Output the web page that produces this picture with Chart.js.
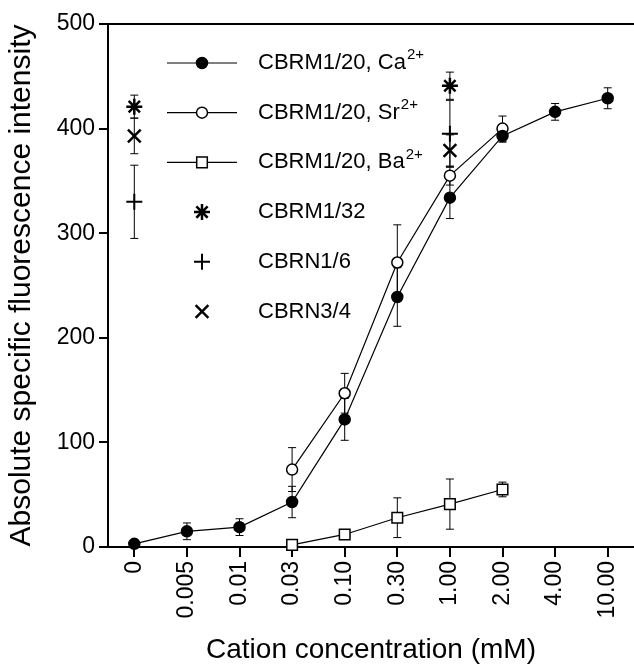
<!DOCTYPE html>
<html>
<head>
<meta charset="utf-8">
<script src="https://cdn.jsdelivr.net/npm/chart.js@4.4.0/dist/chart.umd.min.js"></script>
<style>
  html, body { margin: 0; padding: 0; background: #fff; }
</style>
</head>
<body>
<canvas id="cationChart" width="634" height="669"></canvas>
<script>
// categories on the x axis (mM)
const concentrations = ['0', '0.005', '0.01', '0.03', '0.10', '0.30', '1.00', '2.00', '4.00', '10.00'];
const yTicks = [0, 100, 200, 300, 400, 500];

// CBRM1/20 titrations
const caValues = [3, 15, 19, 43, 122, 239, 334, 393, 416, 429];
const caErrors = [0, 8, 8, 15, 20, 28, 20, 6, 8, 10];
const srValues = [null, null, null, 74, 147, 272, 355, 400, null, null];
const srErrors = [0, 0, 0, 21, 19, 36, 9, 12, 0, 0];
const baValues = [null, null, null, 2, 12, 28, 41, 55, null, null];
const baErrors = [0, 0, 0, 0, 0, 19, 24, 7, 0, 0];

// other antibodies, only at 0 and 1.00 mM
const m132Values = [421, null, null, null, null, null, 441, null, null, null];
const m132Errors = [11, 0, 0, 0, 0, 0, 13, 0, 0, 0];
const n16Values = [330, null, null, null, null, null, 395, null, null, null];
const n16Errors = [35, 0, 0, 0, 0, 0, 32, 0, 0, 0];
const n34Values = [393, null, null, null, null, null, 379, null, null, null];
const n34Errors = [17, 0, 0, 0, 0, 0, 15, 0, 0, 0];

const legendNames = ['CBRM1/20, Ca', 'CBRM1/20, Sr', 'CBRM1/20, Ba', 'CBRM1/32', 'CBRN1/6', 'CBRN3/4'];
const legendSups = ['2+', '2+', '2+', '', '', ''];

const FONT = "'Liberation Sans', Arial, sans-serif";
Chart.defaults.font.family = FONT;
Chart.defaults.color = '#000';

// Error bars drawn under the points
const errorBars = {
    id: 'errorBars',
    beforeDatasetsDraw(chart) {
        const ctx = chart.ctx;
        const yScale = chart.scales.y;
        ctx.save();
        ctx.strokeStyle = '#000';
        ctx.lineWidth = 1;
        chart.data.datasets.forEach(function(ds, i) {
            if (!ds.errors) return;
            const meta = chart.getDatasetMeta(i);
            ds.data.forEach(function(v, j) {
                const e = ds.errors[j];
                if (v == null || !e) return;
                const x = meta.data[j].x;
                const yTop = yScale.getPixelForValue(v + e);
                const yBot = yScale.getPixelForValue(Math.max(v - e, 0));
                ctx.beginPath();
                ctx.moveTo(x, yTop); ctx.lineTo(x, yBot);
                ctx.moveTo(x - 4, yTop); ctx.lineTo(x + 4, yTop);
                ctx.moveTo(x - 4, yBot); ctx.lineTo(x + 4, yBot);
                ctx.stroke();
            });
        });
        ctx.restore();
    }
};

// Top frame line and legend inside the plot
const frameAndLegend = {
    id: 'frameAndLegend',
    afterDraw(chart) {
        const ctx = chart.ctx;
        const area = chart.chartArea;
        ctx.save();
        ctx.strokeStyle = '#000';
        ctx.lineWidth = 2;
        ctx.beginPath();
        ctx.moveTo(area.left, area.top);
        ctx.lineTo(area.right, area.top);
        ctx.stroke();

        const lineX0 = area.left + 59, lineX1 = area.left + 129;
        const markX = area.left + 94, textX = area.left + 150;
        chart.data.datasets.forEach(function(ds, i) {
            const y = area.top + 39 + i * 49.7;
            if (ds.showLine !== false) {
                ctx.strokeStyle = ds.borderColor;
                ctx.lineWidth = ds.borderWidth;
                ctx.beginPath();
                ctx.moveTo(lineX0, y);
                ctx.lineTo(lineX1, y);
                ctx.stroke();
            }
            ctx.fillStyle = ds.pointBackgroundColor;
            ctx.strokeStyle = '#000';
            ctx.lineWidth = ds.pointBorderWidth;
            Chart.helpers.drawPoint(ctx, {
                pointStyle: ds.pointStyle,
                radius: ds.pointRadius,
                borderWidth: ds.pointBorderWidth,
                rotation: 0
            }, markX, y);

            ctx.fillStyle = '#000';
            ctx.textBaseline = 'middle';
            ctx.textAlign = 'left';
            ctx.font = '22px ' + FONT;
            ctx.fillText(legendNames[i], textX, y);
            if (legendSups[i]) {
                const w = ctx.measureText(legendNames[i]).width;
                ctx.font = '15px ' + FONT;
                ctx.fillText(legendSups[i], textX + w + 1, y - 8);
            }
        });
        ctx.restore();
    }
};

function lineSet(values, errors, style, radius, fill) {
    return {
        data: values,
        errors: errors,
        borderColor: '#000',
        borderWidth: 1.2,
        pointStyle: style,
        pointRadius: radius,
        pointHoverRadius: radius,
        pointBorderWidth: 1.5,
        pointBorderColor: '#000',
        pointBackgroundColor: fill,
        spanGaps: false
    };
}

function markerSet(values, errors, style, radius, width) {
    return {
        data: values,
        errors: errors,
        showLine: false,
        borderColor: '#000',
        borderWidth: 0,
        pointStyle: style,
        pointRadius: radius,
        pointHoverRadius: radius,
        pointBorderWidth: width,
        pointBorderColor: '#000',
        pointBackgroundColor: '#000'
    };
}

const ctx = document.getElementById('cationChart').getContext('2d');
const cationChart = new Chart(ctx, {
    type: 'line',
    data: {
        labels: concentrations,
        datasets: [
            lineSet(caValues, caErrors, 'circle', 5.5, '#000'),
            lineSet(srValues, srErrors, 'circle', 5.5, '#fff'),
            lineSet(baValues, baErrors, 'rect', 7.5, '#fff'),
            markerSet(m132Values, m132Errors, 'star', 8, 2.5),
            markerSet(n16Values, n16Errors, 'cross', 8, 2),
            markerSet(n34Values, n34Errors, 'crossRot', 9, 2.5)
        ]
    },
    options: {
        responsive: false,
        animation: false,
        devicePixelRatio: 1,
        clip: false,
        layout: { autoPadding: false, padding: { top: 24, right: 0, left: 0, bottom: 0 } },
        plugins: {
            legend: { display: false },
            tooltip: { enabled: false }
        },
        scales: {
            x: {
                offset: true,
                grid: { drawOnChartArea: false, drawTicks: true, tickLength: 10, color: '#000', lineWidth: 2 },
                border: { color: '#000', width: 2 },
                ticks: { minRotation: 90, maxRotation: 90, padding: 4, font: { size: 23 }, color: '#000' },
                title: { display: true, text: 'Cation concentration (mM)', font: { size: 28 }, color: '#000', padding: { top: 0, bottom: 2 } },
                afterFit: function(scale) {
                    scale.height = 122;
                    scale.paddingLeft = 0;
                    scale.paddingRight = 0;
                }
            },
            y: {
                min: 0,
                max: 500,
                afterBuildTicks: function(scale) { scale.ticks = yTicks.map(function(v) { return { value: v }; }); },
                grid: { drawOnChartArea: false, drawTicks: true, tickLength: 9, color: '#000', lineWidth: 2 },
                border: { color: '#000', width: 2 },
                ticks: { padding: 4, font: { size: 23 }, color: '#000' },
                title: { display: true, text: 'Absolute specific fluorescence intensity', font: { size: 30 }, color: '#000', padding: { top: 4, bottom: 0 } },
                afterFit: function(scale) { scale.width = 108; }
            }
        }
    },
    plugins: [errorBars, frameAndLegend]
});
</script>
</body>
</html>
